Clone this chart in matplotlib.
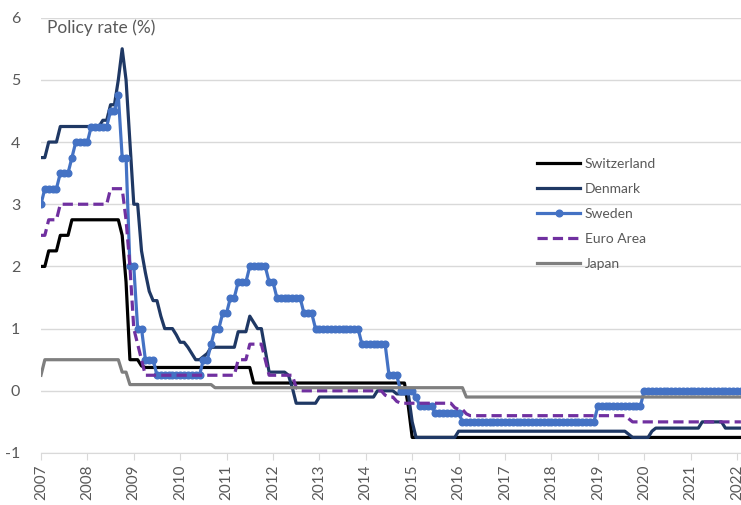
import numpy as np
import matplotlib.pyplot as plt

plt.rcParams['font.family'] = ['Lato', 'DejaVu Sans']

# monthly data from Jan 2007; each rate is held for the given number of months
start_year = 2007
years = list(range(2007, 2023))

swiss_rate = [2.0, 2.25, 2.5, 2.75, 2.5, 1.75, 0.5, 0.4, 0.375, 0.125, -0.25, -0.75]
swiss_months = [2, 3, 3, 13, 1, 1, 3, 1, 28, 40, 1, 86]

denmark_rate = [3.75, 4.0, 4.25, 4.35, 4.6, 5.0, 5.5, 5.0, 4.0, 3.0, 2.25, 1.9, 1.6,
                1.45, 1.2, 1.0, 0.9, 0.78, 0.7, 0.6, 0.5, 0.55, 0.6, 0.7, 0.95, 1.2,
                1.1, 1.0, 0.65, 0.3, 0.25, 0.05, -0.2, -0.1, 0.0, -0.05, -0.5, -0.75,
                -0.65, -0.7, -0.75, -0.65, -0.6, -0.5, -0.6]
denmark_months = [2, 3, 11, 2, 2, 1, 1, 1, 1, 2, 1, 1, 1,
                  2, 1, 3, 1, 2, 1, 1, 2, 1, 1, 7, 3, 1,
                  1, 2, 1, 5, 1, 1, 6, 15, 5, 4, 1, 11,
                  44, 1, 5, 1, 12, 6, 5]

sweden_rate = [3.0, 3.25, 3.5, 3.75, 4.0, 4.25, 4.5, 4.75, 3.75, 2.0, 1.0, 0.5, 0.25,
               0.5, 0.75, 1.0, 1.25, 1.5, 1.75, 2.0, 1.75, 1.5, 1.25, 1.0, 0.75, 0.25,
               0.0, -0.1, -0.25, -0.35, -0.5, -0.25, 0.0]
sweden_months = [1, 4, 3, 1, 4, 5, 2, 1, 2, 2, 2, 3, 12,
                 2, 1, 2, 2, 2, 3, 5, 2, 7, 3, 12, 7, 3,
                 4, 1, 4, 7, 35, 12, 26]

euro_rate = [2.5, 2.75, 3.0, 3.25, 2.75, 2.0, 1.0, 0.75, 0.5, 0.25, 0.5, 0.75, 0.5,
             0.25, 0.05, 0.0, -0.07, -0.1, -0.17, -0.2, -0.27, -0.3, -0.37, -0.4,
             -0.45, -0.5]
euro_months = [2, 3, 13, 4, 1, 1, 1, 1, 1, 24, 3, 4, 1,
               7, 1, 22, 1, 2, 1, 14, 1, 2, 1, 41,
               1, 29]

japan_rate = [0.25, 0.5, 0.3, 0.1, 0.05, -0.1]
japan_months = [1, 20, 2, 22, 65, 72]

series = [
    ('Switzerland', swiss_rate, swiss_months, dict(color='black')),
    ('Denmark', denmark_rate, denmark_months, dict(color='#1F3864')),
    ('Sweden', sweden_rate, sweden_months, dict(color='#4472C4', marker='o', markersize=4.8)),
    ('Euro Area', euro_rate, euro_months, dict(color='#7030A0', dashes=(3.2, 1.6))),
    ('Japan', japan_rate, japan_months, dict(color='#7F7F7F')),
]

fig = plt.figure(figsize=(7.41, 5.05), dpi=100)
ax = fig.add_axes([0.0553, 0.103, 0.9447, 0.862])

for name, rate, months, style in series:
    values = np.repeat(rate, months)
    t = start_year + np.arange(len(values)) / 12
    ax.plot(t, values, lw=2.3, label=name, **style)

ax.set_xlim(2007, 2022.086)
ax.set_ylim(-1, 6)
ax.set_yticks(range(-1, 7))
ax.set_yticklabels([str(v) for v in range(-1, 7)])
ax.set_xticks(years)
ax.set_xticklabels([str(y) for y in years], rotation=90)

ax.grid(axis='y', color='#D9D9D9', lw=1)
ax.set_axisbelow(True)
for side in ['top', 'right', 'left']:
    ax.spines[side].set_visible(False)
ax.spines['bottom'].set_color('#D9D9D9')
ax.tick_params(axis='y', length=0, pad=15, labelsize=11.5, labelcolor='#595959')
ax.tick_params(axis='x', length=5, color='#D9D9D9', pad=3, labelsize=11,
               labelcolor='#595959')

ax.text(0.009, 0.978, 'Policy rate (%)', transform=ax.transAxes, fontsize=12.5,
        color='#595959', va='center', ha='left')

leg = fig.legend(loc='upper left', bbox_to_anchor=(0.7247, 0.688), frameon=False,
                 fontsize=10, handlelength=3.1, handletextpad=0.35, labelspacing=0.95,
                 borderpad=0, borderaxespad=0, numpoints=1)
for text in leg.get_texts():
    text.set_color('#595959')

fig.savefig('out.png', dpi=100)
